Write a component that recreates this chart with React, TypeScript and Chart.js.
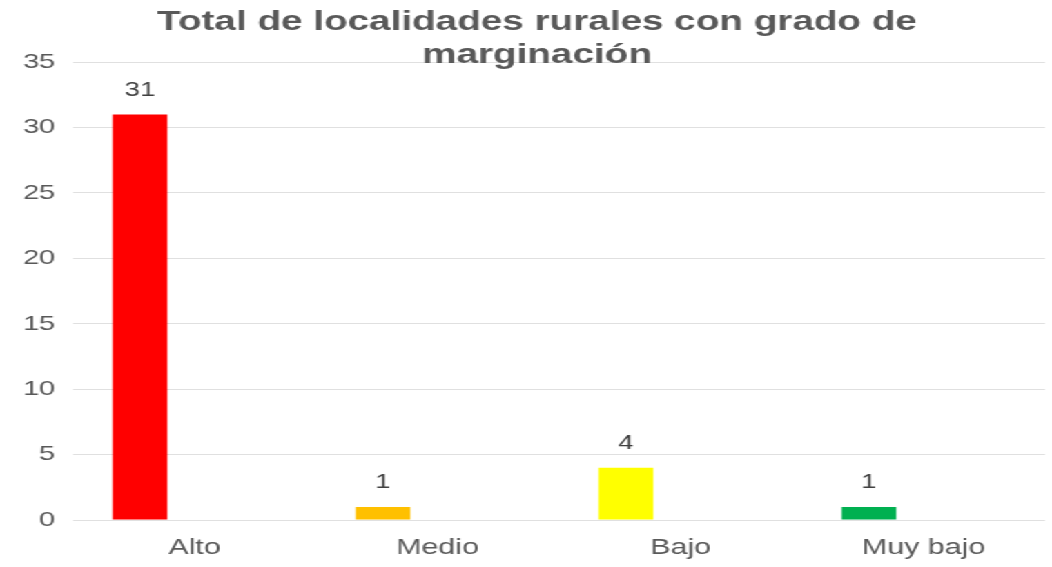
import React, { useEffect, useRef } from "react";
import { Chart, registerables } from "chart.js";

Chart.register(...registerables);

const categories = ["Alto", "Medio", "Bajo", "Muy bajo"];
const values = [31, 1, 4, 1];
const emptySeries = [null, null, null, null];
const barColors = ["#FF0000", "#FFC000", "#FFFF00", "#00B050"];
const titleLines = ["Total de localidades rurales con grado de", "marginación"];
const yTicks = [0, 5, 10, 15, 20, 25, 30, 35];

const STRETCH = 1.3806;
const BASE_W = 1052 / STRETCH;

const valueLabels = {
  id: "valueLabels",
  afterLayout(chart: any) {
    const t = chart.titleBlock;
    if (t) {
      t.left += 4.5;
      t.right += 4.5;
    }
  },
  afterDatasetsDraw(chart: any) {
    const ctx = chart.ctx;
    const meta = chart.getDatasetMeta(0);
    ctx.save();
    ctx.font = "20px 'Liberation Sans', Arial, sans-serif";
    ctx.fillStyle = "#404040";
    ctx.textAlign = "center";
    ctx.textBaseline = "middle";
    meta.data.forEach((el: any, i: number) => {
      const v = values[i];
      if (v == null) return;
      ctx.fillText(String(v), el.x, el.y - 24);
    });
    ctx.restore();
  },
};

export default function App() {
  const ref = useRef<HTMLCanvasElement | null>(null);
  useEffect(() => {
    if (!ref.current) return;
    const chart = new Chart(ref.current, {
      type: "bar",
      data: {
        labels: categories,
        datasets: [
          {
            label: "Localidades",
            data: values,
            backgroundColor: barColors,
            borderWidth: 0,
            categoryPercentage: 0.9,
            barPercentage: 0.5,
          },
          {
            label: "",
            data: emptySeries as any,
            backgroundColor: "rgba(0,0,0,0)",
            borderWidth: 0,
            categoryPercentage: 0.9,
            barPercentage: 0.5,
          },
        ],
      },
      options: {
        animation: false,
        responsive: true,
        maintainAspectRatio: false,
        layout: { padding: { left: 12, right: 5, top: 0, bottom: 0 } },
        plugins: {
          legend: { display: false },
          tooltip: { enabled: false },
          title: {
            display: true,
            text: titleLines,
            color: "#595959",
            font: { family: "'Liberation Sans', Arial, sans-serif", size: 28, weight: "bold", lineHeight: 1.18 },
            padding: { top: 5.5, bottom: -9.5 },
          },
        },
        scales: {
          x: {
            grid: { display: false, drawTicks: false },
            border: { display: false },
            ticks: {
              color: "#595959",
              font: { family: "'Liberation Sans', Arial, sans-serif", size: 22 },
              padding: 15,
            },
            afterFit: (scale: any) => {
              scale.height = 47;
            },
          },
          y: {
            min: 0,
            max: 35,
            afterBuildTicks: (scale: any) => {
              scale.ticks = yTicks.map((v) => ({ value: v }));
            },
            grid: { color: "#E0E0E0", lineWidth: 1, drawTicks: false },
            border: { display: false },
            ticks: {
              color: "#595959",
              font: { family: "'Liberation Sans', Arial, sans-serif", size: 21 },
              padding: 13,
            },
            afterFit: (scale: any) => {
              scale.width = 41;
            },
          },
        },
      },
      plugins: [valueLabels],
    });
    return () => chart.destroy();
  }, []);

  return (
    <div
      style={{
        position: "fixed",
        left: 0,
        top: 0,
        width: BASE_W,
        height: 567,
        transform: `scaleX(${STRETCH})`,
        transformOrigin: "0 0",
        background: "#FFFFFF",
      }}
    >
      <canvas ref={ref} />
    </div>
  );
}
